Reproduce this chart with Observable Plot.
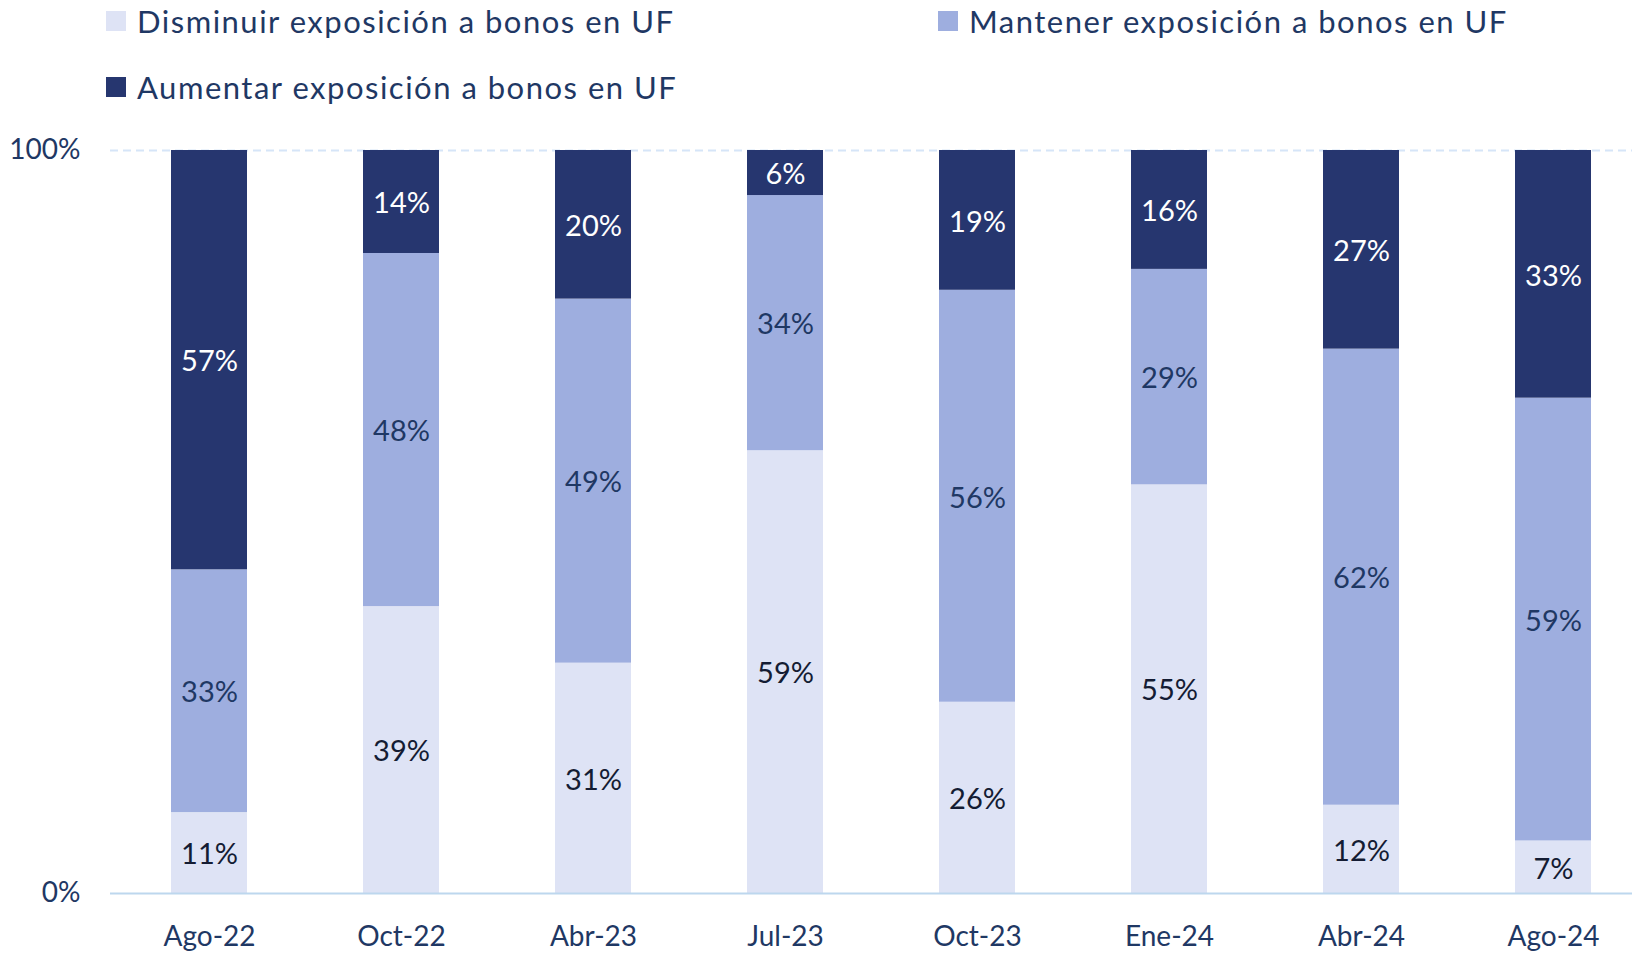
<!DOCTYPE html>
<html>
<head>
<meta charset="utf-8">
<script src="https://cdn.jsdelivr.net/npm/d3@7"></script>
<script src="https://cdn.jsdelivr.net/npm/@observablehq/plot@0.6"></script>
<style>
  html, body { margin: 0; padding: 0; background: #fff; }
  body { width: 1632px; height: 953px; overflow: hidden; font-family: Lato, "Open Sans", sans-serif; }
  #legend { position: relative; height: 130px; }
  .item { position: absolute; display: flex; align-items: center; font-size: 31px; letter-spacing: 1.5px; color: #1f3864; white-space: nowrap; }
  .sw { width: 20px; height: 20px; margin-right: 11px; }
</style>
</head>
<body>
<div id="legend"></div>
<div id="chart"></div>
<script>
const periods = ["Ago-22", "Oct-22", "Abr-23", "Jul-23", "Oct-23", "Ene-24", "Abr-24", "Ago-24"];
const series = ["Disminuir exposición a bonos en UF", "Mantener exposición a bonos en UF", "Aumentar exposición a bonos en UF"];
const disminuir = [11, 39, 31, 59, 26, 55, 12, 7];
const mantener  = [33, 48, 49, 34, 56, 29, 62, 59];
const aumentar  = [57, 14, 20, 6, 19, 16, 27, 33];
const colors = ["#dee3f5", "#9eaedf", "#26366f"];
const labelColors = ["#141c33", "#1f3864", "#ffffff"];
const yTicks = [0, 1];

const valuesBySeries = [disminuir, mantener, aumentar];
const data = [];
periods.forEach((p, i) => {
  series.forEach((s, j) => data.push({period: p, series: s, value: valuesBySeries[j][i]}));
});

// Legend
const legend = document.getElementById("legend");
const legendPos = [[106, 11], [938, 11], [106, 77]];
series.forEach((s, j) => {
  const it = document.createElement("div");
  it.className = "item";
  it.style.left = legendPos[j][0] + "px";
  it.style.top = (legendPos[j][1] - 11) + "px";
  it.style.height = "42px";
  const sw = document.createElement("div");
  sw.className = "sw";
  sw.style.background = colors[j];
  it.appendChild(sw);
  const t = document.createElement("span");
  t.textContent = s;
  it.appendChild(t);
  legend.appendChild(it);
});

const stackOpts = {x: "period", y: "value", z: "series", offset: "normalize"};

const chart = Plot.plot({
  width: 1632,
  height: 823,
  marginTop: 20,
  marginBottom: 60,
  marginLeft: 110,
  marginRight: 0,
  style: {fontFamily: "Lato, 'Open Sans', sans-serif", color: "#1f3864", background: "#fff"},
  x: {type: "band", domain: periods, range: [110, 1651], paddingInner: 0.605, paddingOuter: 0.3025, align: 0.5, label: null},
  y: {domain: [0, 1], label: null},
  color: {domain: series, range: colors},
  marks: [
    Plot.ruleY([1], {stroke: "#d6e5f8", strokeWidth: 2, strokeDasharray: "8,5"}),
    Plot.barY(data, Plot.stackY({...stackOpts, fill: "series"})),
    ...series.map((s, j) => Plot.text(data, Plot.stackY({
      ...stackOpts,
      text: d => d.series === s ? d.value + "%" : "",
      fill: labelColors[j],
      fontSize: 29,
      dy: 2
    }))),
    Plot.ruleY([0], {stroke: "#bdd7ee", strokeWidth: 2}),
    Plot.axisY({ticks: yTicks, tickFormat: d3.format(".0%"), tickSize: 0, tickPadding: 30, fontSize: 28, label: null}),
    Plot.axisX({tickSize: 0, tickPadding: 33, fontSize: 28, label: null})
  ]
});
document.getElementById("chart").appendChild(chart);
</script>
</body>
</html>
